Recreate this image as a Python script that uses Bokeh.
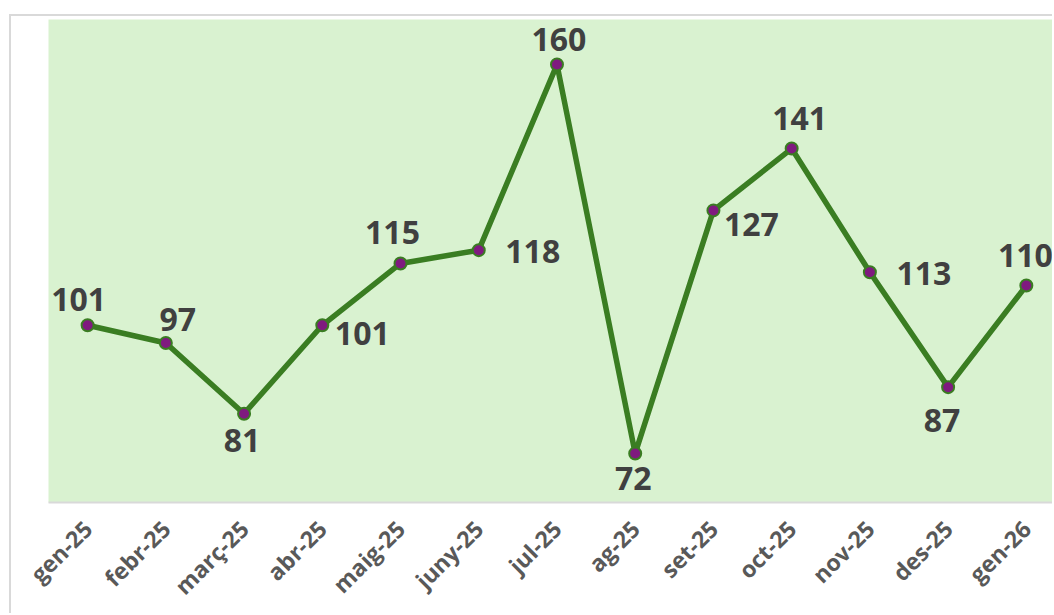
import math
from bokeh.plotting import figure
from bokeh.models import ColumnDataSource, FixedTicker
from bokeh.core.properties import value
from bokeh.embed import file_html
from bokeh.resources import INLINE

months = ["gen-25", "febr-25", "març-25", "abr-25", "maig-25", "juny-25", "jul-25",
          "ag-25", "set-25", "oct-25", "nov-25", "des-25", "gen-26"]
counts = [101, 97, 81, 101, 115, 118, 160, 72, 127, 141, 113, 87, 110]

# label placement (pixel offsets from each point, screen y down)
label_dx = [-9, 12, -2, 40, -8, 54, 2, -2, 38, 8, 54, -6, -1]
label_dy = [-26, -23, 27, 8, -31, 1, -25, 25, 14, -30, 1, 33, -30]

idx = list(range(len(months)))
src = ColumnDataSource(dict(x=idx, y=counts, lab=[str(v) for v in counts],
                            dx=label_dx, dy=label_dy))

p = figure(width=1043, height=599, x_range=(-0.5, 12.36), y_range=(60.9, 170.2),
           output_backend="svg", toolbar_location=None,
           min_border_left=37, min_border_right=0, min_border_top=3, min_border_bottom=104,
           background_fill_color="#d9f2d0", border_fill_color="white",
           outline_line_color=None, margin=(14, 0, 0, 9),
           styles={"border-left": "2px solid #d9d9d9", "border-top": "2px solid #d9d9d9"})

p.line("x", "y", source=src, line_color="#3a7d22", line_width=5.5)
p.scatter("x", "y", source=src, size=12, fill_color="#7f1a7f", line_color="#3a7d22",
          line_width=2)
p.text("x", "y", text="lab", source=src, x_offset="dx", y_offset="dy",
       text_align="center", text_baseline="middle",
       text_font=value("Open Sans"), text_font_style="bold", text_font_size="32px",
       text_color="#404040")

p.yaxis.visible = False
p.grid.visible = False
p.xaxis.ticker = FixedTicker(ticks=idx)
p.xaxis.major_label_overrides = {i: m for i, m in enumerate(months)}
p.xaxis.major_label_orientation = math.pi / 4
p.xaxis.major_label_text_font = "Open Sans"
p.xaxis.major_label_text_font_style = "bold"
p.xaxis.major_label_text_font_size = "23px"
p.xaxis.major_label_text_color = "#595959"
p.xaxis.major_label_standoff = 22
p.xaxis.major_tick_out = 0
p.xaxis.major_tick_in = 0
p.xaxis.major_tick_line_color = None
p.xaxis.minor_tick_line_color = None
p.xaxis.axis_line_color = "#d9d9d9"
p.xaxis.axis_line_width = 2

open("out.html", "w").write(file_html(p, INLINE))
